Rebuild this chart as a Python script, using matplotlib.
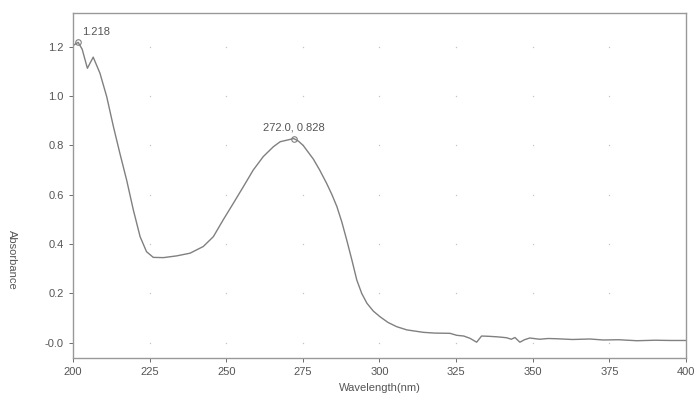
import numpy as np
import matplotlib.pyplot as plt

plt.rcParams['font.family'] = ['Liberation Sans', 'DejaVu Sans']

# spectrum
wavelength = [200.0, 201.7, 203.0, 204.7, 206.6, 208.8, 211.0, 213.2, 215.3, 217.5,
              219.7, 221.9, 224.0, 226.2, 229.5, 233.8, 238.2, 242.5, 245.8, 249.0,
              252.3, 255.6, 258.8, 262.1, 265.4, 267.6, 270.0, 272.0, 273.5, 275.1,
              278.4, 280.5, 282.8, 284.5, 286.1, 287.7, 289.3, 291.0, 292.6, 294.2,
              295.9, 298.0, 300.2, 302.8, 305.6, 308.9, 314.3, 318.0, 323.0, 325.2,
              327.5, 329.5, 331.7, 333.3, 335.5, 338.2, 340.0, 341.5, 343.0, 344.2,
              345.8, 347.3, 349.0, 352.3, 355.0, 357.8, 363.0, 368.6, 373.0, 378.0,
              384.0, 390.0, 395.0, 400.0]
absorbance = [1.205, 1.218, 1.19, 1.113, 1.158, 1.093, 0.998, 0.876, 0.768, 0.660,
              0.538, 0.430, 0.369, 0.346, 0.345, 0.352, 0.363, 0.390, 0.430, 0.498,
              0.565, 0.633, 0.700, 0.755, 0.795, 0.815, 0.822, 0.828, 0.818, 0.800,
              0.745, 0.700, 0.645, 0.600, 0.552, 0.490, 0.417, 0.335, 0.254, 0.200,
              0.160, 0.128, 0.105, 0.082, 0.065, 0.052, 0.042, 0.039, 0.038, 0.030,
              0.027, 0.018, 0.002, 0.027, 0.026, 0.024, 0.022, 0.020, 0.014, 0.021,
              0.002, 0.012, 0.019, 0.014, 0.017, 0.016, 0.013, 0.015, 0.011, 0.012,
              0.008, 0.010, 0.009, 0.009]

peaks = [(201.7, 1.218, '1.218'), (272.0, 0.828, '272.0, 0.828')]

x_ticks = [200, 225, 250, 275, 300, 325, 350, 375, 400]
y_ticks = [0.0, 0.2, 0.4, 0.6, 0.8, 1.0, 1.2]
y_labels = ['-0.0', '0.2', '0.4', '0.6', '0.8', '1.0', '1.2']

txt = '#555555'
fig = plt.figure(figsize=(6.99, 4.03), dpi=100)
ax = fig.add_axes([0.1044, 0.1117, 0.877, 0.856])

# dotted grid: only dots at the tick crossings
gx, gy = np.meshgrid(x_ticks[1:-1], y_ticks)
ax.scatter(gx.ravel(), gy.ravel(), s=1.0, color='#c4c4c4', zorder=1, linewidths=0)

ax.plot(wavelength, absorbance, color='#808080', lw=1.0, zorder=2)

for px, py, lab in peaks:
    ax.plot(px, py, 'o', ms=4, mfc='none', mec='#808080', mew=0.8)
ax.annotate(peaks[0][2], (peaks[0][0], peaks[0][1]), xytext=(3, 5),
            textcoords='offset points', fontsize=8, color=txt)
ax.annotate(peaks[1][2], (peaks[1][0], peaks[1][1]), xytext=(0, 6),
            textcoords='offset points', fontsize=8, color=txt, ha='center')

ax.set_xlim(200, 400)
ax.set_ylim(-0.062, 1.337)
ax.set_xticks(x_ticks)
ax.set_yticks(y_ticks)
ax.set_yticklabels(y_labels)
ax.tick_params(labelsize=8, colors=txt, length=3, width=0.6)
for s in ax.spines.values():
    s.set_color('#999999')
    s.set_linewidth(1.0)

ax.set_xlabel('Wavelength(nm)', fontsize=8, color=txt, labelpad=4)
ax.set_ylabel('Absorbance', fontsize=8, color=txt, rotation=270, va='center')
ax.yaxis.set_label_coords(-0.1, 0.285)

fig.savefig('out.png', dpi=100)
